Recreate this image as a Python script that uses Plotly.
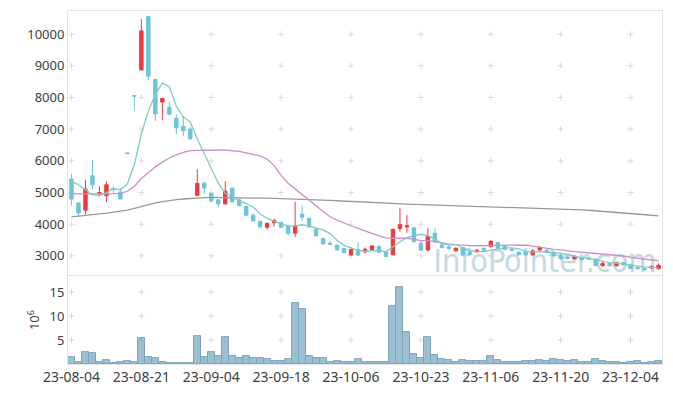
import plotly.graph_objects as go

# ---------------- data ----------------
tick_labels = ["23-08-04", "23-08-21", "23-09-04", "23-09-18", "23-10-06",
               "23-10-23", "23-11-06", "23-11-20", "23-12-04"]

opens = [5423, 4670, 4441, 5527, 4970, 4900, 5130, 5015, 6250, 8060,
         8871, 10554, 8568, 7858, 7690, 7346, 7095, 7001, 4911, 5295,
         4968, 4768, 4642, 5137, 4768, 4558, 4284, 4095, 3905, 4042,
         4052, 3947, 3716, 4316, 4179, 3842, 3547, 3400, 3336, 3231,
         3032, 3195, 3126, 3189, 3304, 3116, 3032, 3868, 3910, 3889,
         3398, 3189, 3711, 3346, 3283, 3158, 3262, 3116, 3126, 3241,
         3293, 3419, 3314, 3210, 3116, 3137, 3033, 3189, 3179, 3116,
         3022, 2949, 2907, 2949, 2939, 2897, 2698, 2761, 2688, 2792,
         2729, 2636, 2604, 2625, 2594]
highs = [5590, 4690, 5402, 6029, 5193, 5350, 5193, 5140, 6260, 8060,
         10470, 10554, 8568, 7973, 7879, 7461, 7419, 7074, 5736, 5339,
         4990, 4790, 5358, 5158, 4810, 4610, 4347, 4100, 4052, 4158,
         4074, 3989, 4705, 4579, 4210, 3884, 3578, 3473, 3357, 3263,
         3231, 3440, 3262, 3335, 3314, 3137, 3858, 4516, 4286, 3889,
         3471, 3889, 3868, 3387, 3367, 3262, 3283, 3158, 3210, 3262,
         3492, 3440, 3330, 3263, 3137, 3179, 3210, 3315, 3210, 3137,
         3074, 2991, 3033, 2970, 2960, 2918, 2824, 2782, 2813, 2813,
         2750, 2656, 2625, 2698, 2761]
lows = [4587, 4232, 4305, 5109, 4880, 4702, 4984, 4790, 6220, 7596,
        8850, 8537, 7262, 7283, 7440, 6834, 6792, 6656, 4880, 4963,
        4680, 4537, 4621, 4695, 4558, 4242, 4074, 3884, 3821, 3926,
        3884, 3631, 3600, 4105, 3884, 3610, 3357, 3357, 3178, 3084,
        3000, 3000, 3074, 3179, 3106, 2970, 3022, 3764, 3732, 3419,
        3157, 3137, 3419, 3241, 3210, 3137, 3011, 3011, 3105, 3158,
        3262, 3210, 3180, 3137, 3022, 3001, 3001, 3158, 3085, 2970,
        2865, 2876, 2886, 2865, 2880, 2677, 2656, 2667, 2667, 2698,
        2583, 2573, 2541, 2573, 2573]
closes = [4796, 4357, 5109, 5245, 5000, 5245, 5100, 4796, 6230, 8040,
          10104, 8673, 7482, 7973, 7471, 7043, 6949, 6698, 5287, 5140,
          4737, 4642, 5042, 4705, 4589, 4284, 4105, 3915, 4031, 4126,
          3905, 3716, 3947, 4221, 3915, 3631, 3378, 3368, 3189, 3105,
          3200, 3025, 3210, 3314, 3116, 2980, 3837, 3994, 3952, 3450,
          3178, 3617, 3440, 3262, 3231, 3241, 3032, 3043, 3179, 3179,
          3461, 3241, 3200, 3179, 3033, 3033, 3158, 3263, 3106, 3001,
          2918, 2918, 2970, 2886, 2897, 2698, 2761, 2688, 2792, 2719,
          2604, 2594, 2562, 2656, 2698]

# volume, millions of shares
volume_m = [1.45, 0.4, 2.57, 2.37, 0.4, 0.8, 0.2, 0.4, 0.6, 0.4,
            5.33, 1.38, 1.18, 0.4, 0.2, 0.15, 0.15, 0.15, 5.9, 1.45,
            2.57, 1.64, 5.53, 1.64, 1.25, 1.64, 1.25, 1.25, 1.0, 0.6,
            0.6, 1.05, 12.6, 11.45, 1.64, 1.2, 1.2, 0.4, 0.6, 0.4,
            0.4, 1.0, 0.4, 0.4, 0.4, 0.4, 12.0, 16.0, 6.7, 2.0,
            1.2, 5.5, 1.8, 1.0, 0.8, 0.4, 0.8, 0.6, 0.6, 0.6,
            1.6, 0.8, 0.4, 0.4, 0.4, 0.6, 0.6, 0.8, 0.6, 1.0,
            0.8, 0.6, 0.8, 0.4, 0.4, 1.0, 0.6, 0.4, 0.4, 0.2,
            0.4, 0.6, 0.2, 0.4, 0.6]

ma5 = [5350, 5245, 5088, 4930, 4901, 4991, 5140, 5077, 5274, 5882,
       6854, 7569, 8106, 8454, 8341, 7728, 7384, 7227, 6690, 6223,
       5762, 5301, 4970, 4853, 4743, 4652, 4545, 4320, 4185, 4092,
       4016, 3939, 3945, 3983, 3941, 3886, 3818, 3703, 3496, 3334,
       3248, 3177, 3146, 3171, 3173, 3129, 3291, 3448, 3576, 3643,
       3682, 3638, 3527, 3389, 3346, 3358, 3241, 3162, 3145, 3135,
       3179, 3221, 3252, 3252, 3223, 3137, 3121, 3133, 3119, 3112,
       3089, 3041, 2983, 2939, 2918, 2874, 2842, 2786, 2767, 2732,
       2713, 2679, 2654, 2627, 2623]
ma20 = [4955, 4950, 4948, 4948, 4950, 4955, 4962, 4972, 5040, 5200,
        5440, 5640, 5810, 5960, 6090, 6190, 6270, 6320, 6335, 6337,
        6334, 6348, 6345, 6318, 6297, 6249, 6200, 6155, 6046, 5850,
        5540, 5292, 5115, 4928, 4750, 4579, 4401, 4234, 4129, 4028,
        3951, 3870, 3778, 3709, 3635, 3570, 3556, 3560, 3556, 3523,
        3486, 3481, 3456, 3408, 3374, 3354, 3337, 3321, 3320, 3324,
        3337, 3348, 3347, 3341, 3336, 3339, 3305, 3269, 3226, 3204,
        3191, 3156, 3132, 3114, 3097, 3070, 3056, 3038, 3019, 2996,
        2953, 2921, 2889, 2863, 2846]
ma60 = [4232, 4250, 4275, 4300, 4325, 4350, 4375, 4400, 4441, 4500,
        4560, 4620, 4670, 4715, 4750, 4775, 4795, 4815, 4830, 4842,
        4845, 4845, 4843, 4840, 4835, 4830, 4827, 4824, 4820, 4815,
        4810, 4805, 4800, 4792, 4785, 4775, 4765, 4752, 4740, 4728,
        4715, 4700, 4685, 4672, 4660, 4650, 4645, 4640, 4632, 4625,
        4618, 4610, 4605, 4600, 4595, 4590, 4585, 4580, 4575, 4568,
        4562, 4556, 4550, 4543, 4536, 4530, 4522, 4513, 4504, 4495,
        4486, 4476, 4465, 4452, 4440, 4425, 4410, 4395, 4380, 4362,
        4343, 4323, 4303, 4282, 4260]

price_ticks = [3000, 4000, 5000, 6000, 7000, 8000, 9000, 10000]
vol_ticks = [5, 10, 15]

# ---------------- figure ----------------
n = len(closes)
xs = list(range(n))
tick_pos = list(range(0, n, 10))[:len(tick_labels)]

RED = "#f0393b"
BLUE = "#6cc4da"
FONT = "Noto Sans"
PRICE_RANGE = [2395, 10730]
VOL_RANGE = [0, 18.3]

fig = go.Figure()

# moving averages
fig.add_trace(go.Scatter(x=xs, y=ma60, mode="lines", line=dict(color="#9a9a9a", width=1.3),
                         hoverinfo="skip", showlegend=False, xaxis="x", yaxis="y"))
fig.add_trace(go.Scatter(x=xs, y=ma20, mode="lines", line=dict(color="#cc8fc6", width=1.3),
                         hoverinfo="skip", showlegend=False, xaxis="x", yaxis="y"))
fig.add_trace(go.Scatter(x=xs, y=ma5, mode="lines", line=dict(color="#7fcbc2", width=1.3),
                         hoverinfo="skip", showlegend=False, xaxis="x", yaxis="y"))

# candles
fig.add_trace(go.Candlestick(x=xs, open=opens, high=highs, low=lows, close=closes,
                             increasing=dict(line=dict(color=RED, width=1), fillcolor=RED),
                             decreasing=dict(line=dict(color=BLUE, width=1), fillcolor=BLUE),
                             whiskerwidth=0, showlegend=False, xaxis="x", yaxis="y"))

# volume
fig.add_trace(go.Bar(x=xs, y=volume_m, marker=dict(color="rgba(137,180,201,0.85)",
                                                   line=dict(color="#7aa6bd", width=1)),
                     showlegend=False, xaxis="x2", yaxis="y2"))

# "+" grid marks at tick intersections, drawn below the data
def cross_path(xt, yt, dx, dy):
    parts = []
    for t in xt:
        for v in yt:
            parts.append(f"M{t - dx},{v} L{t + dx},{v} M{t},{v - dy} L{t},{v + dy}")
    return " ".join(parts)

dpx_x = 1.0 / 7.0  # one pixel in category units (approx.)
price_px = (PRICE_RANGE[1] - PRICE_RANGE[0]) / 266.0
vol_px = (VOL_RANGE[1] - VOL_RANGE[0]) / 89.0
shapes = [
    dict(type="path", xref="x", yref="y", layer="below",
         path=cross_path(tick_pos, price_ticks, 3 * dpx_x, 3 * price_px),
         line=dict(color="#dadada", width=1)),
    dict(type="path", xref="x2", yref="y2", layer="below",
         path=cross_path(tick_pos, vol_ticks, 3 * dpx_x, 3 * vol_px),
         line=dict(color="#dadada", width=1)),
    # watermark
    dict(type="rect", xref="x", yref="y", layer="below",
         x0=52, x1=83.5, y0=2480, y1=3350,
         line=dict(width=0), fillcolor="rgba(0,0,0,0)",
         label=dict(text="InfoPointer.com", textposition="middle center",
                    font=dict(family="Liberation Sans Narrow, DejaVu Sans Condensed, sans-serif",
                              size=32, color="#c6d8e4"))),
]

axis_line = "#e4e4e4"
fig.update_layout(
    width=673, height=396,
    margin=dict(l=68, r=10, t=10, b=29),
    paper_bgcolor="white", plot_bgcolor="white",
    font=dict(family=FONT, size=13, color="#404040"),
    bargap=0, boxgap=0.3,
    shapes=shapes,
    xaxis=dict(domain=[0, 1], anchor="y", range=[-0.5, n - 0.5], showgrid=False,
               zeroline=False, showticklabels=False, rangeslider=dict(visible=False),
               showline=True, mirror=True, linecolor=axis_line, linewidth=1),
    yaxis=dict(domain=[0.252, 1], anchor="x", range=PRICE_RANGE, tickvals=price_ticks,
               ticktext=[str(v) for v in price_ticks], showgrid=False, zeroline=False,
               showline=True, mirror=True, linecolor=axis_line, linewidth=1,
               ticks="", tickfont=dict(size=13, color="#404040")),
    xaxis2=dict(domain=[0, 1], anchor="y2", matches="x", range=[-0.5, n - 0.5],
                tickvals=tick_pos, ticktext=tick_labels, showgrid=False, zeroline=False,
                showline=True, mirror=True, linecolor=axis_line, linewidth=1,
                ticks="", tickfont=dict(size=14, color="#404040")),
    yaxis2=dict(domain=[0, 0.249], anchor="x2", range=VOL_RANGE, tickvals=vol_ticks,
                ticktext=[str(v) for v in vol_ticks], showgrid=False, zeroline=False,
                showline=True, mirror=True, linecolor=axis_line, linewidth=1,
                ticks="", tickfont=dict(size=13, color="#404040"),
                title=dict(text="10<sup>6</sup>", font=dict(size=13, color="#404040"),
                           standoff=6)),
)

fig.write_html("out.html", config={"displayModeBar": False},
               post_script="document.body.style.margin='0';document.body.style.overflow='hidden';")
